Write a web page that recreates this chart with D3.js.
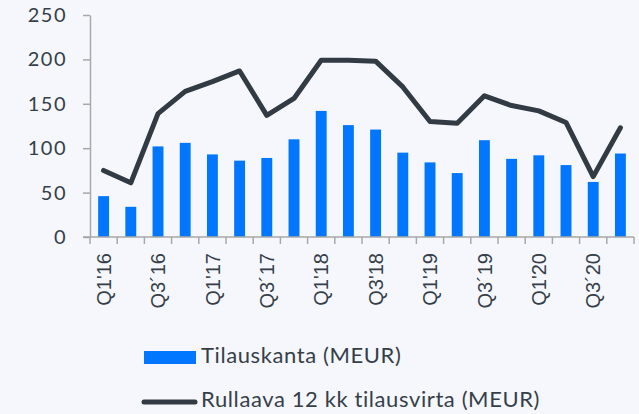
<!DOCTYPE html>
<html>
<head>
<meta charset="utf-8">
<script src="https://cdn.jsdelivr.net/npm/d3@7"></script>
<style>
  html, body { margin: 0; padding: 0; background: #f5f7fc; }
  svg { display: block; }
</style>
</head>
<body>
<div id="chart"></div>
<script>
// quarters on the x axis, only every second one gets a label
var quarters = ["Q1'16","Q2'16","Q3'16","Q4'16","Q1'17","Q2'17","Q3'17","Q4'17",
  "Q1'18","Q2'18","Q3'18","Q4'18","Q1'19","Q2'19","Q3'19","Q4'19",
  "Q1'20","Q2'20","Q3'20","Q4'20"];
var tickLabels = ["Q1'16","Q3\u00b416","Q1'17","Q3\u00b417","Q1'18","Q3'18","Q1'19","Q3\u00b419","Q1'20","Q3\u00b420"];
var tilauskanta = [46,34,102,106,93,86,89,110,142,126,121,95,84,72,109,88,92,81,62,94];
var tilausvirta = [75,61,139,164,175,187,137,156,199,199,198,169,130,128,159,148,142,129,68,123];
var yTicks = [0,50,100,150,200,250];
var legendLabels = ["Tilauskanta (MEUR)", "Rullaava 12 kk tilausvirta (MEUR)"];

var width = 639, height = 414;
var margin = {top: 15, right: 5, bottom: 177, left: 90};
var textColor = "#363f49",
  axisColor = "#a8a8a8",
  barColor = "#0077fe",
  lineColor = "#323b44";

var svg = d3.select("#chart").append("svg")
  .attr("width", width)
  .attr("height", height);

svg.append("rect")
  .attr("width", width).attr("height", height)
  .attr("fill", "#f5f7fc");

var xScale = d3.scaleBand()
  .domain(quarters)
  .range([margin.left, width - margin.right])
  .paddingInner(0.6)
  .paddingOuter(0.3);

var yScale = d3.scaleLinear()
  .domain([0, 250])
  .range([height - margin.bottom, margin.top]);

var y0 = yScale(0);

// bars
svg.selectAll("rect.bar")
  .data(tilauskanta)
  .enter().append("rect")
  .attr("class", "bar")
  .attr("x", function(d, i) { return xScale(quarters[i]); })
  .attr("y", function(d) { return yScale(d); })
  .attr("width", xScale.bandwidth())
  .attr("height", function(d) { return y0 - yScale(d); })
  .attr("fill", barColor);

// y axis
var yAxis = svg.append("g")
  .attr("transform", "translate(" + margin.left + ",0)")
  .call(d3.axisLeft(yScale).tickValues(yTicks).tickSize(7).tickSizeOuter(0).tickPadding(10));
yAxis.select(".domain").attr("stroke", axisColor).attr("stroke-width", 1.5);
yAxis.selectAll(".tick line").attr("stroke", axisColor).attr("stroke-width", 1.5);
yAxis.selectAll(".tick text")
  .attr("fill", textColor)
  .style("font-family", "Lato, sans-serif")
  .style("font-size", "20px")
  .style("letter-spacing", "1.5px")
  .attr("x", -23);

// x axis line and ticks at band boundaries
var step = xScale.step(),
  boundaries = quarters.map(function(q) { return xScale(q) - step * xScale.paddingInner() / 2; });
boundaries.push(xScale(quarters[quarters.length - 1]) + xScale.bandwidth() + step * xScale.paddingInner() / 2);

svg.append("line")
  .attr("x1", margin.left - 7).attr("x2", boundaries[boundaries.length - 1])
  .attr("y1", y0).attr("y2", y0)
  .attr("stroke", axisColor).attr("stroke-width", 1.5);

svg.selectAll("line.xtick")
  .data(boundaries)
  .enter().append("line")
  .attr("class", "xtick")
  .attr("x1", function(d) { return d; })
  .attr("x2", function(d) { return d; })
  .attr("y1", y0).attr("y2", y0 + 7)
  .attr("stroke", axisColor).attr("stroke-width", 1.5);

// rotated x labels, every second quarter
svg.selectAll("text.xlabel")
  .data(tickLabels)
  .enter().append("text")
  .attr("class", "xlabel")
  .attr("transform", function(d, i) {
    var cx = xScale(quarters[i * 2]) + xScale.bandwidth() / 2;
    return "translate(" + cx + "," + (y0 + 16) + ") rotate(-90)";
  })
  .attr("text-anchor", "end")
  .attr("dy", "0.36em")
  .attr("fill", textColor)
  .style("font-family", "'Liberation Sans', Arial, sans-serif")
  .style("font-size", "20px")
  .text(function(d) { return d; });

// rolling 12 month order intake
var line = d3.line()
  .x(function(d, i) { return xScale(quarters[i]) + xScale.bandwidth() / 2; })
  .y(function(d) { return yScale(d); });

svg.append("path")
  .datum(tilausvirta)
  .attr("d", line)
  .attr("fill", "none")
  .attr("stroke", lineColor)
  .attr("stroke-width", 5)
  .attr("stroke-linejoin", "round")
  .attr("stroke-linecap", "round");

// legend
var legend = svg.append("g");
legend.append("rect")
  .attr("x", 144).attr("y", 351)
  .attr("width", 52).attr("height", 13)
  .attr("fill", barColor);
legend.append("line")
  .attr("x1", 144).attr("x2", 195)
  .attr("y1", 402).attr("y2", 402)
  .attr("stroke", lineColor)
  .attr("stroke-width", 5)
  .attr("stroke-linecap", "round");
legend.selectAll("text")
  .data(legendLabels)
  .enter().append("text")
  .attr("x", 201)
  .attr("y", function(d, i) { return i === 0 ? 363 : 407; })
  .attr("fill", textColor)
  .style("font-family", "Lato, sans-serif")
  .style("font-size", "22px")
  .style("letter-spacing", "0.6px")
  .text(function(d) { return d; });
</script>
</body>
</html>
